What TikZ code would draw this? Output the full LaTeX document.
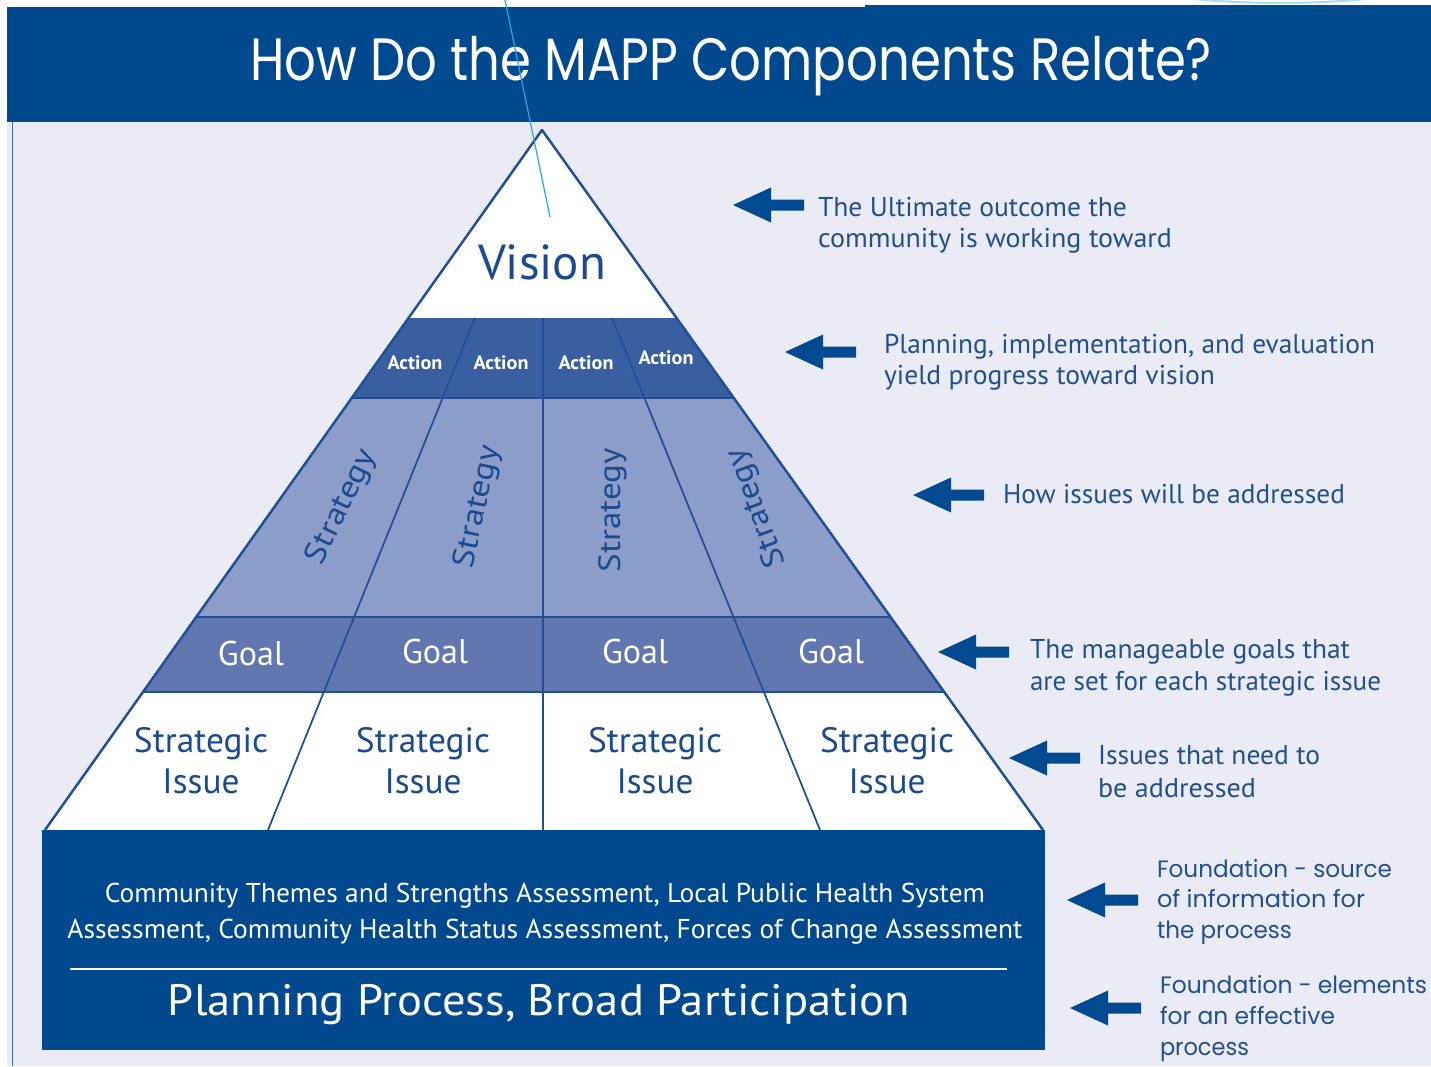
\documentclass[tikz,border=0pt]{standalone}
\usepackage{fontspec}
\usepackage{graphicx}
\setmainfont{PT Sans}
\newfontfamily\titlefont{Poppins}
\newlength\upx \setlength\upx{0.02cm}
\newcommand\W[2]{\resizebox{#1\upx}{\height}{#2}}
\definecolor{headblue}{HTML}{00498F}
\definecolor{bglav}{HTML}{EBEBF5}
\definecolor{sideblue}{HTML}{3D6AA8}
\definecolor{actblue}{HTML}{3A5FA0}
\definecolor{stratblue}{HTML}{8D9DC9}
\definecolor{goalblue}{HTML}{6277B0}
\definecolor{edgeblue}{HTML}{1F4F97}
\definecolor{txtblue}{HTML}{1B4B8E}
\definecolor{annblue}{HTML}{22508F}
\definecolor{arrowblue}{HTML}{004A91}
\definecolor{cyanline}{HTML}{2AA7E0}
\definecolor{lightcyan}{HTML}{A9DDF5}
\begin{document}
\begin{tikzpicture}[x=0.02cm,y=-0.02cm,
  txt/.style={inner sep=0pt,outer sep=0pt},
  ann/.style={txt,anchor=base west,text=annblue,font=\fontsize{15.5}{18}\selectfont},
  fnd/.style={txt,anchor=base west,text=annblue,font=\titlefont\fontsize{13.5}{16}\selectfont},
  actlbl/.style={txt,anchor=base,text=white,font=\bfseries\fontsize{11}{13}\selectfont},
  stratlbl/.style={txt,anchor=center,text=txtblue,font=\fontsize{17.5}{20}\selectfont},
  goallbl/.style={txt,anchor=base,text=white,font=\fontsize{19.5}{22}\selectfont},
  issuelbl/.style={txt,anchor=base,text=txtblue,font=\fontsize{20}{22}\selectfont},
  fndlbl/.style={txt,anchor=base,text=white,font=\fontsize{15.5}{18}\selectfont},
  divider/.style={draw=edgeblue,line width=1pt},
  rowline/.style={draw=edgeblue,line width=0.7pt},
  larrow/.pic={\fill[arrowblue] (0,0)--(38,-17.5)--(38,-5.5)--(71,-5.5)--(71,5.5)--(38,5.5)--(38,17.5)--cycle;}]
\useasboundingbox (0,0) rectangle (1431,1066);
\fill[white] (0,0) rectangle (1431,1066);
% top-right light arc
\begin{scope}
  \clip (0,0) rectangle (1431,5);
  \draw[lightcyan,line width=1.2pt] (1280,-25) ellipse [x radius=165,y radius=28];
\end{scope}
% background and header
\fill[bglav] (7,122) rectangle (1431,1066);
\fill[headblue] (7,7) rectangle (1431,122);
\fill[headblue] (865,5) rectangle (1431,8);
\draw[sideblue,line width=1.1pt] (12.5,122) -- (12.5,1066);
\node[txt,anchor=base,text=white,font=\titlefont\fontsize{34}{40}\selectfont] (title) at (731,80) {\W{962}{How Do the MAPP Components Relate?}};
% pyramid
\coordinate (apex) at (542,130);
\coordinate (bl) at (45,830);
\coordinate (br) at (1043,830);
\begin{scope}
  \clip (apex)--(bl)--(br)--cycle;
  \fill[white] (0,125) rectangle (1431,318);
  \fill[actblue] (0,318) rectangle (1431,398);
  \fill[stratblue] (0,398) rectangle (1431,617);
  \fill[goalblue] (0,617) rectangle (1431,692);
  \fill[white] (0,692) rectangle (1431,835);
  \draw[rowline] (0,398) -- (1431,398);
  \draw[rowline] (0,617) -- (1431,617);
  \draw[rowline] (0,692) -- (1431,692);
  \draw[divider] (543,318) -- (543,830);
  \draw[divider] (475,318) -- (268,830);
  \draw[divider] (612,318) -- (820,830);
\end{scope}
\draw[edgeblue,line width=1.4pt,line join=round] (bl) -- (apex) -- (br);
% foundation box
\fill[headblue] (42,830) rectangle (1045,1050);
\draw[white,line width=1.1pt] (70,969) -- (1007,969);
% pyramid labels
\node[txt,anchor=base,text=txtblue,font=\fontsize{28}{32}\selectfont] (vision) at (542,279) {\W{128}{Vision}};
\node[actlbl] (act1) at (415,369) {\W{55}{Action}};
\node[actlbl] (act2) at (501,369) {\W{55}{Action}};
\node[actlbl] (act3) at (586,369) {\W{55}{Action}};
\node[actlbl] (act4) at (666,364) {\W{55}{Action}};
\node[stratlbl,rotate=64] (str1) at (342,507) {\W{124}{Strategy}};
\node[stratlbl,rotate=78] (str2) at (478,507) {\W{124}{Strategy}};
\node[stratlbl,rotate=90] (str3) at (613,510) {\W{124}{Strategy}};
\node[stratlbl,rotate=110] (str4) at (757,508) {\W{124}{Strategy}};
\node[goallbl] (goal1) at (251,665) {\W{66}{Goal}};
\node[goallbl] (goal2) at (435,663) {\W{66}{Goal}};
\node[goallbl] (goal3) at (635,663) {\W{66}{Goal}};
\node[goallbl] (goal4) at (831,663) {\W{66}{Goal}};
\node[issuelbl] (si1a) at (201,752) {\W{134}{Strategic}};
\node[issuelbl] (si1b) at (201,793) {\W{77}{Issue}};
\node[issuelbl] (si2a) at (423,752) {\W{134}{Strategic}};
\node[issuelbl] (si2b) at (423,793) {\W{77}{Issue}};
\node[issuelbl] (si3a) at (655,752) {\W{134}{Strategic}};
\node[issuelbl] (si3b) at (655,793) {\W{77}{Issue}};
\node[issuelbl] (si4a) at (887,752) {\W{134}{Strategic}};
\node[issuelbl] (si4b) at (887,793) {\W{77}{Issue}};
\node[fndlbl] (fl1) at (545,902) {\W{880}{Community Themes and Strengths Assessment, Local Public Health System}};
\node[fndlbl] (fl2) at (545,938) {\W{955}{Assessment, Community Health Status Assessment, Forces of Change Assessment}};
\node[txt,anchor=base,text=white,font=\fontsize{25}{28}\selectfont] (plan) at (539,1015) {\W{742}{Planning Process, Broad Participation}};
% arrows
\pic at (733,205) {larrow};
\pic at (785,352) {larrow};
\pic at (913,495) {larrow};
\pic at (938,652) {larrow};
\pic at (1009,758) {larrow};
\pic at (1067,900) {larrow};
\pic at (1070,1008) {larrow};
% annotations
\node[ann] (a1a) at (818,216) {\W{309}{The Ultimate outcome the}};
\node[ann] (a1b) at (818,247) {\W{354}{community is working toward}};
\node[ann] (a2a) at (884,353) {\W{491}{Planning, implementation, and evaluation}};
\node[ann] (a2b) at (884,384) {\W{331}{yield progress toward vision}};
\node[ann] (a3) at (1003,503) {\W{342}{How issues will be addressed}};
\node[ann] (a4a) at (1030,658) {\W{320}{The manageable goals that}};
\node[ann] (a4b) at (1030,690) {\W{351}{are set for each strategic issue}};
\node[ann] (a5a) at (1098,764) {\W{222}{Issues that need to}};
\node[ann] (a5b) at (1098,797) {\W{158}{be addressed}};
\node[fnd] (a6a) at (1157,877) {\W{235}{Foundation - source}};
\node[fnd] (a6b) at (1157,907) {\W{208}{of information for}};
\node[fnd] (a6c) at (1157,938) {\W{135}{the process}};
\node[fnd] (a7a) at (1160,993) {\W{267}{Foundation - elements}};
\node[fnd] (a7b) at (1160,1024) {\W{175}{for an effective}};
\node[fnd] (a7c) at (1160,1055) {\W{89}{process}};
% stray cyan line
\draw[cyanline,line width=0.7pt] (505,0) -- (550,217);
\end{tikzpicture}
\end{document}
